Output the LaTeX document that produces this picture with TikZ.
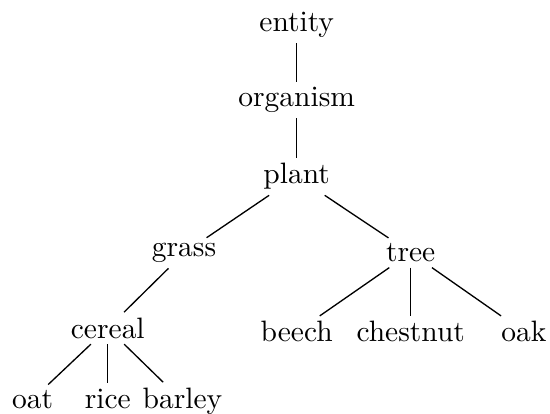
\documentclass[tikz,border=0pt]{standalone}
\usepackage{tikz}

\begin{document}
\begin{tikzpicture}[
        x=0.339pt, y=-0.339pt,
        word/.style={anchor=base, inner sep=1.7pt},
        link/.style={line width=0.45pt}
    ]
        \useasboundingbox (0,0) rectangle (550,414);

        \node[word] (entity) at (296.7,31.7) {entity};
        \node[word] (organism) at (296.7,106.7) {organism};
        \node[word] (plant) at (296.7,184) {plant};
        \node[word] (grass) at (184,256.7) {grass};
        \node[word] (tree) at (410.7,261.7) {tree};
        \node[word] (cereal) at (107.8,338.3) {cereal};
        \node[word] (beech) at (296.7,342) {beech};
        \node[word] (chestnut) at (410.7,342) {chestnut};
        \node[word] (oak) at (524,342) {oak};
        \node[word] (oat) at (32.5,408.3) {oat};
        \node[word] (rice) at (107.8,408.3) {rice};
        \node[word] (barley) at (182.5,408.3) {barley};

        \draw[link] (entity) -- (organism);
        \draw[link] (organism) -- (plant);
        \draw[link] (plant) -- (grass);
        \draw[link] (plant) -- (tree);
        \draw[link] (grass) -- (cereal);
        \draw[link] (tree) -- (beech);
        \draw[link] (tree) -- (chestnut);
        \draw[link] (tree) -- (oak);
        \draw[link] (cereal) -- (oat);
        \draw[link] (cereal) -- (rice);
        \draw[link] (cereal) -- (barley);
    \end{tikzpicture}
\end{document}
